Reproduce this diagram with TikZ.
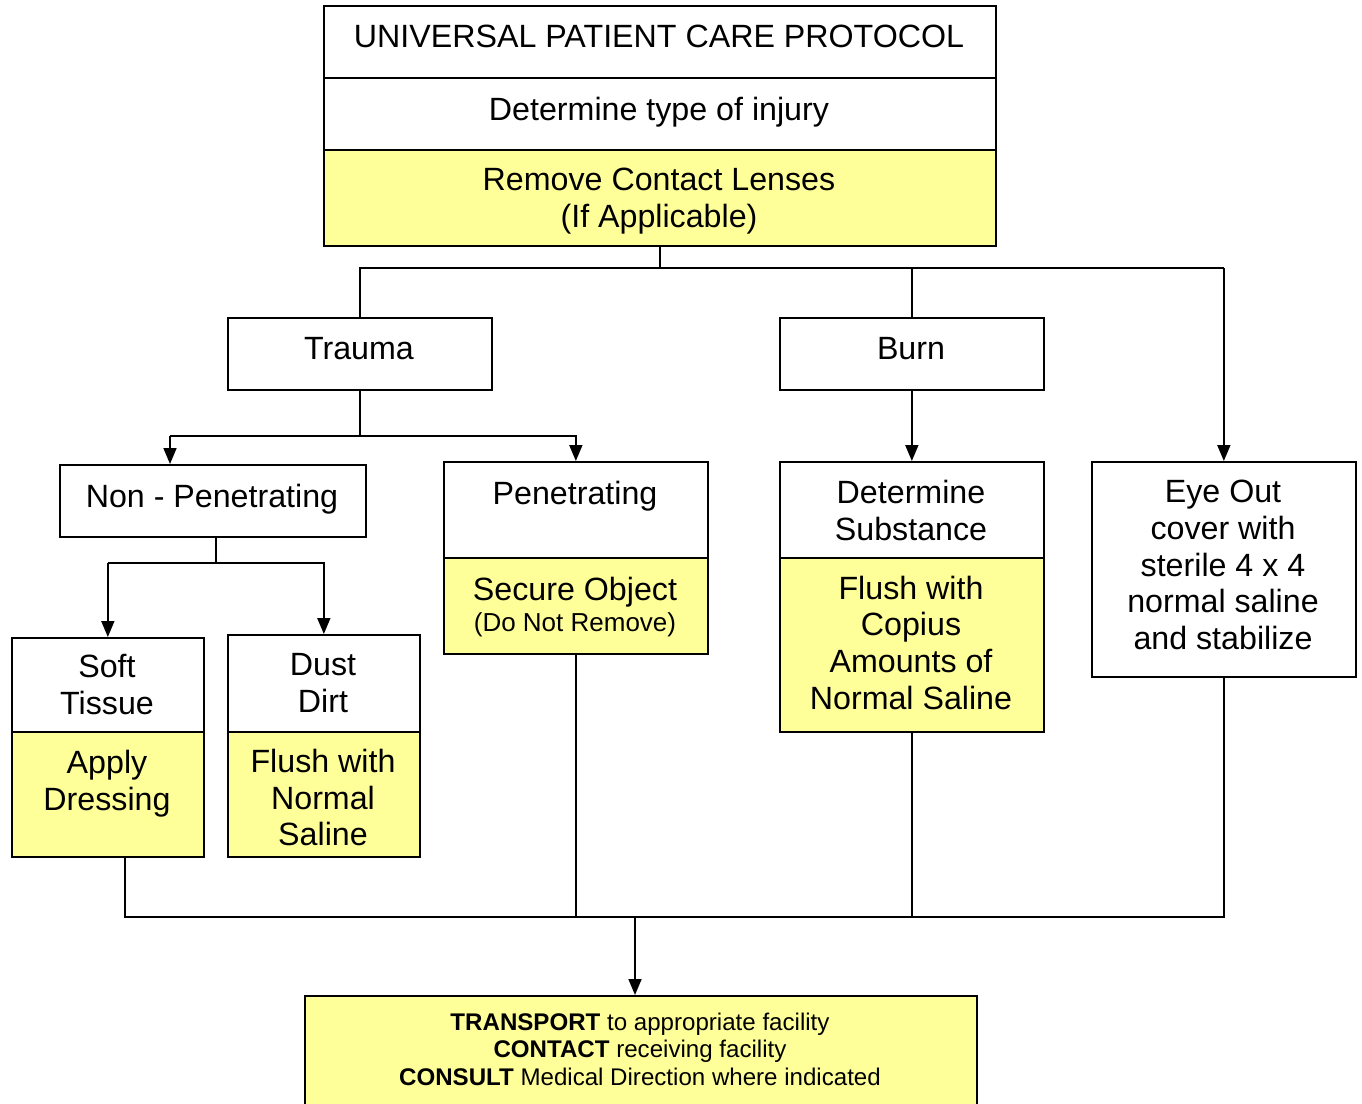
\documentclass[tikz,border=0pt]{standalone}
\usepackage{fontspec}
\setmainfont{Liberation Sans}
\usetikzlibrary{arrows.meta}
\definecolor{paleyellow}{HTML}{FFFF99}
\begin{document}
\begin{tikzpicture}[x=1pt,y=-1pt,
  box/.style={draw=black,line width=1.7pt,anchor=north west,inner sep=0pt,fill=white},
  ybox/.style={box,fill=paleyellow},
  txt/.style={align=center,inner sep=0pt,font=\fontsize{32.2}{36.7}\selectfont,
    execute at begin node=\strut,execute at end node=\strut},
  smalltxt/.style={align=center,inner sep=0pt,font=\fontsize{26}{28}\selectfont,
    execute at begin node=\strut,execute at end node=\strut},
  fintxt/.style={align=center,inner sep=0pt,font=\fontsize{24.1}{27.5}\selectfont,
    execute at begin node=\strut,execute at end node=\strut},
  conn/.style={line width=1.7pt},
  arr/.style={conn,-{Triangle[width=13pt,length=16pt]}}]
\useasboundingbox (0,0) rectangle (1362,1103);
% boxes
\node[box,minimum width=672pt,minimum height=72pt] (title) at (323,5) {};
\node[box,minimum width=672pt,minimum height=72pt] (det) at (323,77) {};
\node[ybox,minimum width=672pt,minimum height=96pt] (rem) at (323,149) {};
\node[box,minimum width=264pt,minimum height=72pt] (trauma) at (227,317) {};
\node[box,minimum width=264pt,minimum height=72pt] (burn) at (779,317) {};
\node[box,minimum width=306pt,minimum height=72pt] (nonpen) at (59,464) {};
\node[box,minimum width=264pt,minimum height=96pt] (pen) at (443,461) {};
\node[ybox,minimum width=264pt,minimum height=96pt] (sec) at (443,557) {};
\node[box,minimum width=264pt,minimum height=96pt] (dsub) at (779,461) {};
\node[ybox,minimum width=264pt,minimum height=174pt] (flush) at (779,557) {};
\node[box,minimum width=264pt,minimum height=215pt] (eye) at (1091,461) {};
\node[box,minimum width=192pt,minimum height=94pt] (soft) at (11,637) {};
\node[ybox,minimum width=192pt,minimum height=125pt] (apply) at (11,731) {};
\node[box,minimum width=192pt,minimum height=97pt] (dust) at (227,634) {};
\node[ybox,minimum width=192pt,minimum height=125pt] (fns) at (227,731) {};
\node[ybox,minimum width=672pt,minimum height=130pt] (final) at (304,995) {};
% texts
\node[txt] (ttitle) at (659,40) {UNIVERSAL PATIENT CARE PROTOCOL};
\node[txt] (tdet) at (659,113) {Determine type of injury};
\node[txt] (trem) at (659,203.5) {Remove Contact Lenses\\(If Applicable)};
\node[txt] (ttrauma) at (359,352.5) {Trauma};
\node[txt] (tburn) at (911,352.5) {Burn};
\node[txt] (tnonpen) at (212,500) {Non - Penetrating};
\node[txt] (tpen) at (575,497) {Penetrating};
\node[txt] (tsec) at (575,593) {Secure Object};
\node[smalltxt] (tsec2) at (575,625.5) {(Do Not Remove)};
\node[txt] (tdsub) at (911,515.5) {Determine\\Substance};
\node[txt] (tflush) at (911,648) {Flush with\\Copius\\Amounts of\\Normal Saline};
\node[txt] (teye) at (1223,570.5) {Eye Out\\cover with\\sterile 4 x 4\\normal saline\\and stabilize};
\node[txt] (tsoft) at (107,690) {Soft\\Tissue};
\node[txt] (tapply) at (107,785.5) {Apply\\Dressing};
\node[txt] (tdust) at (323,688.5) {Dust\\Dirt};
\node[txt] (tfns) at (323,803) {Flush with\\Normal\\Saline};
\node[fintxt] (tfinal) at (640,1053) {\textbf{TRANSPORT} to appropriate facility\\\textbf{CONTACT} receiving facility\\\textbf{CONSULT} Medical Direction where indicated};
% connectors top
\coordinate (tr) at (eye.north |- 0,268);
\draw[conn] (rem.south) -- (rem.south |- tr);
\draw[conn] (trauma.north) |- (tr);
\draw[arr] (tr) -- (eye.north);
\draw[conn] (burn.north) -- (burn.north |- tr);
\draw[arr] (burn.south) -- (dsub.north);
% trauma branch
\coordinate (tj) at (trauma.south |- 0,436);
\coordinate (tl) at (170,436);
\draw[conn] (trauma.south) -- (tj);
\draw[arr] (tl) -- (tl |- nonpen.north);
\draw[arr] (tl) -| (pen.north);
% non-penetrating branch
\coordinate (np) at (216,563);
\draw[conn] (np |- nonpen.south) -- (np);
\draw[arr] (soft.north |- np) -| (dust.north);
\draw[arr] (soft.north |- np) -- (soft.north);
% bottom collector
\coordinate (bl) at (125,917);
\coordinate (br) at (eye.south |- bl);
\draw[conn] (bl |- apply.south) -- (bl) -- (br) -- (eye.south);
\draw[conn] (sec.south) -- (sec.south |- bl);
\draw[conn] (flush.south) -- (flush.south |- bl);
\coordinate (fa) at (635,917);
\draw[arr] (fa) -- (fa |- final.north);
\end{tikzpicture}
\end{document}
